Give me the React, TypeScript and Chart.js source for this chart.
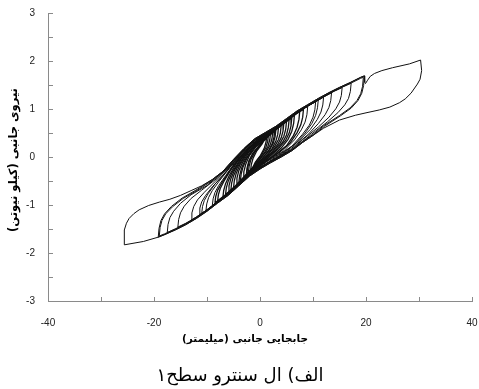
import React, { useEffect, useRef } from "react";
import { Chart, registerables } from "chart.js";

Chart.register(...registerables);

// ---- data (displacement mm, force kN) ----
const cycle30: number[][] = [
  [-25.6, -1.83], [-25.6, -1.52], [-25.2, -1.38], [-24.7, -1.28], [-23.8, -1.18], [-22.8, -1.1], [-21, -1.01], [-19, -0.94],
  [-17, -0.88], [-15, -0.8], [-13, -0.7], [-11, -0.6], [-9, -0.47], [-7, -0.3], [-5, -0.05], [-3, 0.18], [-1, 0.38],
  [1, 0.51], [3, 0.64], [5, 0.8], [7, 0.96], [9, 1.09], [11, 1.22], [13, 1.34], [15, 1.45], [17, 1.55], [19, 1.66],
  [19.7, 1.69], [19.75, 1.56], [19.9, 1.53], [20.3, 1.6], [20.8, 1.68], [21.6, 1.74], [23, 1.8], [25, 1.86], [28.2, 1.94],
  [30.3, 2.02], [30.5, 1.8], [30.2, 1.62], [29.7, 1.52], [28.5, 1.33], [27.4, 1.21], [26.3, 1.13], [24.5, 1.04],
  [22.5, 0.98], [20, 0.92], [18, 0.87], [15, 0.77], [12, 0.6], [10, 0.45], [8, 0.3], [6, 0.13], [4, 0], [2, -0.12],
  [0, -0.25], [-2, -0.4], [-4, -0.6], [-6, -0.8], [-8, -0.96], [-10, -1.13], [-12, -1.28], [-14, -1.41], [-16, -1.52],
  [-19.2, -1.67], [-22, -1.76], [-25.6, -1.83],
];
const cycle20a: number[][] = [
  [-19.2, -1.67], [-19.05, -1.485], [-18.7, -1.326], [-18, -1.184], [-16.7, -1.028], [-14.7, -0.857], [-11.7, -0.664],
  [-9, -0.47], [-7, -0.3], [-5, -0.05], [-3, 0.18], [-1, 0.38], [1, 0.51], [3, 0.64], [5, 0.8], [7, 0.96], [9, 1.09],
  [11, 1.22], [13, 1.34], [15, 1.45], [17, 1.55], [19, 1.66], [19.7, 1.69],
  [19.55, 1.489], [19.2, 1.327], [18.5, 1.178], [17.2, 1.018], [15.2, 0.859], [12.2, 0.641], [10, 0.45], [8, 0.3],
  [6, 0.13], [4, 0], [2, -0.12], [0, -0.25], [-2, -0.4], [-4, -0.6], [-6, -0.8], [-8, -0.96], [-10, -1.13],
  [-12, -1.28], [-14, -1.41], [-16, -1.52], [-18, -1.62], [-19.2, -1.67],
];
const cycle20b: number[][] = [
  [-19, -1.645], [-18.85, -1.469], [-18.5, -1.322], [-17.8, -1.185], [-16.5, -1.036], [-14.5, -0.864], [-11.5, -0.672],
  [-9, -0.49], [-7, -0.32], [-5, -0.07], [-3, 0.16], [-1, 0.36], [1, 0.49], [3, 0.62], [5, 0.78], [7, 0.94], [9, 1.07],
  [11, 1.2], [13, 1.32], [15, 1.43], [17, 1.53], [19, 1.64], [19.5, 1.66],
  [19.35, 1.472], [19, 1.317], [18.3, 1.177], [17, 1.023], [15, 0.864], [12, 0.65], [10, 0.47], [8, 0.32], [6, 0.15],
  [4, 0.02], [2, -0.1], [0, -0.23], [-2, -0.38], [-4, -0.58], [-6, -0.78], [-8, -0.94], [-10, -1.11], [-12, -1.26],
  [-14, -1.39], [-16, -1.5], [-18, -1.6], [-19, -1.645],
];
const cycle17: number[][] = [
  [-17.5, -1.575], [-17.35, -1.405], [-17, -1.263], [-16.3, -1.131], [-15, -0.965], [-13, -0.786], [-10, -0.596],
  [-8, -0.4], [-6, -0.2], [-4, 0.05], [-2, 0.28], [0, 0.43], [2, 0.55], [4, 0.7], [6, 0.86], [8, 1.01], [10, 1.13],
  [12, 1.26], [14, 1.38], [16, 1.48], [17.2, 1.54],
  [17.05, 1.367], [16.7, 1.221], [16, 1.087], [14.7, 0.924], [12.7, 0.73], [9.7, 0.473], [8, 0.32], [6, 0.15],
  [4, 0.02], [2, -0.1], [0, -0.23], [-2, -0.38], [-4, -0.58], [-6, -0.78], [-8, -0.94], [-10, -1.11], [-12, -1.26],
  [-14, -1.39], [-16, -1.5], [-17.5, -1.575],
];
const cycle15: number[][] = [
  [-15.5, -1.46], [-15.35, -1.302], [-15, -1.163], [-14.3, -1.025], [-13, -0.863], [-11, -0.691], [-8, -0.434],
  [-6, -0.21], [-4, 0.04], [-2, 0.27], [0, 0.42], [2, 0.54], [4, 0.69], [6, 0.85], [8, 1.0], [10, 1.12], [12, 1.25],
  [14, 1.37], [15.5, 1.445],
  [15.35, 1.283], [15, 1.144], [14.3, 1.003], [13, 0.828], [11, 0.623], [8, 0.355], [6, 0.16], [4, 0.03], [2, -0.09],
  [0, -0.22], [-2, -0.37], [-4, -0.57], [-6, -0.77], [-8, -0.93], [-10, -1.1], [-12, -1.25], [-14, -1.38], [-15.5, -1.46],
];
const cycle13: number[][] = [
  [-13, -1.32], [-12.85, -1.165], [-12.5, -1.03], [-11.8, -0.894], [-10.5, -0.735], [-8.5, -0.514], [-5.5, -0.169],
  [-3, 0.15], [-1, 0.35], [1, 0.48], [3, 0.61], [5, 0.77], [7, 0.93], [9, 1.06], [11, 1.19], [13, 1.31], [13.5, 1.34],
  [13.35, 1.176], [13, 1.031], [12.3, 0.884], [11, 0.696], [9, 0.462], [6, 0.185], [4, 0.03], [2, -0.09], [0, -0.22],
  [-2, -0.37], [-4, -0.57], [-6, -0.77], [-8, -0.93], [-10, -1.1], [-12, -1.25], [-13, -1.32],
];
const cycle12: number[][] = [
  [-11.5, -1.21], [-11.35, -1.064], [-11, -0.935], [-10.3, -0.806], [-9, -0.622], [-7, -0.386], [-4, 0.018],
  [-2, 0.27], [0, 0.42], [2, 0.54], [4, 0.69], [6, 0.85], [8, 1.0], [10, 1.12], [12, 1.25],
  [11.85, 1.084], [11.5, 0.936], [10.8, 0.78], [9.5, 0.576], [7.5, 0.352], [4.5, 0.08], [2, -0.09], [0, -0.22],
  [-2, -0.37], [-4, -0.57], [-6, -0.77], [-8, -0.93], [-10, -1.1], [-11.5, -1.21],
];
const cycle11: number[][] = [
  [-11, -1.18], [-10.85, -1.033], [-10.5, -0.903], [-9.8, -0.767], [-8.5, -0.568], [-6.5, -0.316], [-3.5, 0.083],
  [-1, 0.36], [1, 0.49], [3, 0.62], [5, 0.78], [7, 0.94], [9, 1.07], [11, 1.2],
  [10.85, 1.026], [10.5, 0.868], [9.8, 0.701], [8.5, 0.498], [6.5, 0.26], [3.5, 0.021], [1, -0.16], [-1, -0.3],
  [-3, -0.48], [-5, -0.68], [-7, -0.86], [-9, -1.03], [-11, -1.18],
];
const cycle10: number[][] = [
  [-10.2, -1.115], [-10.05, -0.977], [-9.7, -0.845], [-9, -0.7], [-7.7, -0.502], [-5.7, -0.224], [-2.7, 0.165],
  [-1, 0.35], [1, 0.48], [3, 0.61], [5, 0.77], [7, 0.93], [9, 1.06], [10.5, 1.155],
  [10.35, 0.984], [10, 0.829], [9.3, 0.662], [8, 0.47], [6, 0.224], [3, 0.005], [1, -0.15], [-1, -0.29], [-3, -0.47],
  [-5, -0.67], [-7, -0.85], [-9, -1.02], [-10.2, -1.115],
];
const cycle9: number[][] = [
  [-9, -1.01], [-8.85, -0.872], [-8.5, -0.74], [-7.8, -0.594], [-6.5, -0.39], [-4.5, -0.08], [-1.5, 0.28], [0.5, 0.44],
  [2, 0.53], [4, 0.68], [6, 0.84], [8, 0.99], [9, 1.05],
  [8.85, 0.88], [8.5, 0.727], [7.8, 0.567], [6.5, 0.356], [4.5, 0.129], [1.5, -0.084], [-0.5, -0.245], [-2, -0.36],
  [-4, -0.56], [-6, -0.76], [-8, -0.92], [-9, -1.01],
];
const cycle8b: number[][] = [
  [-8.5, -0.955], [-8.35, -0.822], [-8, -0.694], [-7.3, -0.556], [-6, -0.336], [-4, -0.028], [-1, 0.311], [1, 0.46],
  [3, 0.59], [5, 0.75], [7, 0.91], [8.2, 0.992],
  [8.05, 0.825], [7.7, 0.671], [7, 0.509], [5.7, 0.294], [3.7, 0.098], [0.7, -0.126], [-1.5, -0.31], [-3.5, -0.5],
  [-5.5, -0.7], [-7, -0.83], [-8.5, -0.955],
];
const cycle8: number[][] = [
  [-8, -0.92], [-7.85, -0.783], [-7.5, -0.655], [-6.8, -0.506], [-5.5, -0.265], [-3.5, 0.035], [-0.5, 0.355],
  [1.5, 0.5], [3.5, 0.64], [5.5, 0.8], [7.5, 0.955],
  [7.35, 0.783], [7, 0.62], [6.3, 0.446], [5, 0.234], [3, 0.056], [0, -0.184], [-2, -0.36], [-4, -0.56], [-6, -0.76],
  [-8, -0.92],
];
const cycle7: number[][] = [
  [-7, -0.84], [-6.85, -0.697], [-6.5, -0.555], [-5.8, -0.384], [-4.5, -0.14], [-2.5, 0.15], [0.5, 0.42], [2.5, 0.565],
  [4.5, 0.72], [6.5, 0.88],
  [6.35, 0.701], [6, 0.536], [5.3, 0.367], [4, 0.186], [2, -0.013], [-1, -0.253], [-3, -0.46], [-5, -0.66], [-7, -0.84],
];
const cycle6b: number[][] = [
  [-6.5, -0.78], [-6.35, -0.642], [-6, -0.504], [-5.3, -0.331], [-4, -0.096], [-2, 0.192], [1, 0.431], [3, 0.58],
  [4.5, 0.7], [6, 0.82],
  [5.85, 0.65], [5.5, 0.497], [4.8, 0.339], [3.5, 0.174], [1.5, -0.027], [-1.5, -0.275], [-3.5, -0.49], [-5, -0.64],
  [-6.5, -0.78],
];
const cycle6: number[][] = [
  [-6, -0.75], [-5.85, -0.6], [-5.5, -0.451], [-4.8, -0.274], [-3.5, -0.039], [-1.5, 0.238], [1.5, 0.469], [3.5, 0.63],
  [5.5, 0.79],
  [5.35, 0.616], [5, 0.458], [4.3, 0.312], [3, 0.143], [1, -0.065], [-2, -0.324], [-4, -0.55], [-6, -0.75],
];
const cycle5b: number[][] = [
  [-5.5, -0.69], [-5.35, -0.542], [-5, -0.393], [-4.3, -0.222], [-3, 0.007], [-1, 0.268], [2, 0.489], [3.5, 0.62],
  [5, 0.74],
  [4.85, 0.576], [4.5, 0.432], [3.8, 0.289], [2.5, 0.114], [0.5, -0.092], [-2.5, -0.365], [-4, -0.54], [-5.5, -0.69],
];
const cycle5: number[][] = [
  [-5, -0.65], [-4.85, -0.495], [-4.5, -0.343], [-3.8, -0.167], [-2.5, 0.069], [-0.5, 0.31], [2.5, 0.533], [4.5, 0.71],
  [4.35, 0.544], [4, 0.399], [3.3, 0.256], [2, 0.07], [0, -0.136], [-3, -0.425], [-5, -0.65],
];
const cycle4b: number[][] = [
  [-4.5, -0.59], [-4.35, -0.437], [-4, -0.287], [-3.3, -0.118], [-2, 0.121], [0, 0.336], [2, 0.47], [4, 0.66],
  [3.85, 0.503], [3.5, 0.365], [2.8, 0.228], [1.5, 0.042], [-0.5, -0.165], [-2.5, -0.36], [-4.5, -0.59],
];
const cycle4: number[][] = [
  [-4, -0.55], [-3.85, -0.391], [-3.5, -0.239], [-2.8, -0.063], [-1.5, 0.165], [0.5, 0.373], [2, 0.49], [3.5, 0.63],
  [3.35, 0.471], [3, 0.333], [2.3, 0.18], [1, 0.003], [-1, -0.21], [-2.5, -0.364], [-4, -0.55],
];
const cycle3b: number[][] = [
  [-3.7, -0.5], [-3.55, -0.35], [-3.2, -0.207], [-2.5, -0.033], [-1.2, 0.177], [0.8, 0.375], [3, 0.57],
  [2.85, 0.424], [2.5, 0.288], [1.8, 0.147], [0.5, -0.024], [-1.5, -0.235], [-3.7, -0.5],
];
const cycle3: number[][] = [
  [-3.2, -0.47], [-3.05, -0.31], [-2.7, -0.153], [-2, 0.03], [-0.7, 0.223], [1.3, 0.42], [2.8, 0.58],
  [2.65, 0.419], [2.3, 0.275], [1.6, 0.13], [0.3, -0.049], [-1.7, -0.261], [-3.2, -0.47],
];
const cycle2b: number[][] = [
  [-2.6, -0.38], [-2.45, -0.23], [-2.1, -0.082], [-1.4, 0.068], [-0.1, 0.247], [1.2, 0.39], [2.4, 0.518],
  [2.25, 0.375], [1.9, 0.248], [1.2, 0.117], [-0.1, -0.061], [-1.3, -0.22], [-2.6, -0.38],
];
const cycle2: number[][] = [
  [-2.5, -0.39], [-2.35, -0.23], [-2, -0.074], [-1.3, 0.079], [0, 0.265], [1, 0.4], [2, 0.51],
  [1.85, 0.359], [1.5, 0.224], [0.8, 0.083], [-0.5, -0.1], [-1.5, -0.26], [-2.5, -0.39],
];
const cycle1b: number[][] = [
  [-2.2, -0.34], [-2.05, -0.188], [-1.7, -0.051], [-1, 0.096], [0, 0.24], [1.6, 0.466],
  [1.45, 0.325], [1.1, 0.199], [0.4, 0.059], [-0.6, -0.082], [-1.4, -0.25], [-2.2, -0.34],
];
const cycle1: number[][] = [
  [-1.8, -0.32], [-1.65, -0.163], [-1.3, -0.023], [-0.6, 0.129], [0.4, 0.274], [1.3, 0.47],
  [1.15, 0.318], [0.8, 0.18], [0.1, 0.034], [-0.9, -0.113], [-1.8, -0.32],
];

const outerCycles = [cycle30, cycle20a, cycle20b, cycle17, cycle15, cycle13, cycle12, cycle11, cycle10, cycle9];
const innerCycles = [
  cycle8b, cycle8, cycle7, cycle6b, cycle6, cycle5b, cycle5, cycle4b, cycle4, cycle3b, cycle3, cycle2b, cycle2, cycle1b, cycle1,
];

const xTickLabels = [-40, -20, 0, 20, 40];
const yTickLabels = [-3, -2, -1, 0, 1, 2, 3];

const xTitle = "جابجایی جانبی (میلیمتر)";
const yTitle = "نیروی جانبی (کیلو نیوتن)";
const caption = "الف) ال سنترو سطح۱";

const innerTicks = {
  id: "innerTicks",
  afterDraw(chart: any) {
    const { ctx, chartArea, scales } = chart;
    ctx.save();
    ctx.strokeStyle = "#8a8a8a";
    ctx.lineWidth = 1;
    ctx.beginPath();
    scales.x.ticks.forEach((t: any) => {
      const px = Math.round(scales.x.getPixelForValue(t.value)) + 0.5;
      ctx.moveTo(px, chartArea.bottom);
      ctx.lineTo(px, chartArea.bottom - 4);
    });
    scales.y.ticks.forEach((t: any) => {
      const py = Math.round(scales.y.getPixelForValue(t.value)) + 0.5;
      ctx.moveTo(chartArea.left, py);
      ctx.lineTo(chartArea.left + 5, py);
    });
    ctx.stroke();
    ctx.restore();
  },
};

export default function App() {
  const ref = useRef<HTMLCanvasElement | null>(null);

  useEffect(() => {
    if (!ref.current) return;
    const mk = (c: number[][], w: number) => ({
      data: c.map(([x, y]) => ({ x, y })),
      showLine: true,
      borderColor: "#111",
      borderWidth: w,
      pointRadius: 0,
      tension: 0,
      fill: false,
    });
    const chart = new Chart(ref.current, {
      type: "scatter",
      data: {
        datasets: [...outerCycles.map((c) => mk(c, 1)), ...innerCycles.map((c) => mk(c, 1.3))],
      },
      options: {
        animation: false,
        responsive: false,
        devicePixelRatio: 1,
        layout: { padding: { top: 13, right: 7, left: 0, bottom: 0 } },
        plugins: { legend: { display: false }, tooltip: { enabled: false } },
        scales: {
          x: {
            type: "linear",
            min: -40,
            max: 40,
            grid: { display: false, drawTicks: false },
            border: { display: true, color: "#8a8a8a", width: 1 },
            ticks: {
              stepSize: 10,
              autoSkip: false,
              maxRotation: 0,
              padding: 16,
              color: "#222",
              font: { family: "'Liberation Sans', Arial, sans-serif", size: 10 },
              callback: (v: any) => (xTickLabels.includes(Number(v)) ? String(v) : ""),
            },
            afterFit: (s: any) => {
              s.height = 88;
              s.paddingLeft = 0;
              s.paddingRight = 0;
            },
          },
          y: {
            type: "linear",
            min: -3,
            max: 3,
            grid: { display: false, drawTicks: false },
            border: { display: true, color: "#8a8a8a", width: 1 },
            ticks: {
              stepSize: 0.5,
              autoSkip: false,
              padding: 13,
              color: "#222",
              font: { family: "'Liberation Sans', Arial, sans-serif", size: 10 },
              callback: (v: any) => (yTickLabels.includes(Number(v)) ? String(v) : ""),
            },
            afterFit: (s: any) => {
              s.width = 48;
              s.paddingTop = 0;
              s.paddingBottom = 0;
            },
          },
        },
      },
      plugins: [innerTicks],
    });
    return () => chart.destroy();
  }, []);

  const base: React.CSSProperties = {
    position: "absolute",
    whiteSpace: "nowrap",
    color: "#000",
    fontFamily: "'DejaVu Sans', sans-serif",
    textAlign: "center",
    width: 240,
  };

  return (
    <div style={{ position: "fixed", left: 0, top: 0, width: 479, height: 389, background: "#fff", overflow: "hidden" }}>
      <canvas ref={ref} width={479} height={389} style={{ position: "absolute", left: 0, top: 0 }} />
      <div
        dir="rtl"
        style={{
          ...base,
          left: 13 - 120,
          top: 160 - 8,
          height: 16,
          lineHeight: "16px",
          fontSize: 11.5,
          fontWeight: "bold",
          transform: "rotate(-90deg)",
          transformOrigin: "50% 50%",
        }}
      >
        {yTitle}
      </div>
      <div
        dir="rtl"
        style={{ ...base, left: 245 - 120, top: 338 - 8, height: 16, lineHeight: "16px", fontSize: 10.5, fontWeight: "bold" }}
      >
        {xTitle}
      </div>
      <div dir="rtl" style={{ ...base, left: 240 - 120, top: 375 - 12, height: 24, lineHeight: "24px", fontSize: 18 }}>
        {caption}
      </div>
    </div>
  );
}
